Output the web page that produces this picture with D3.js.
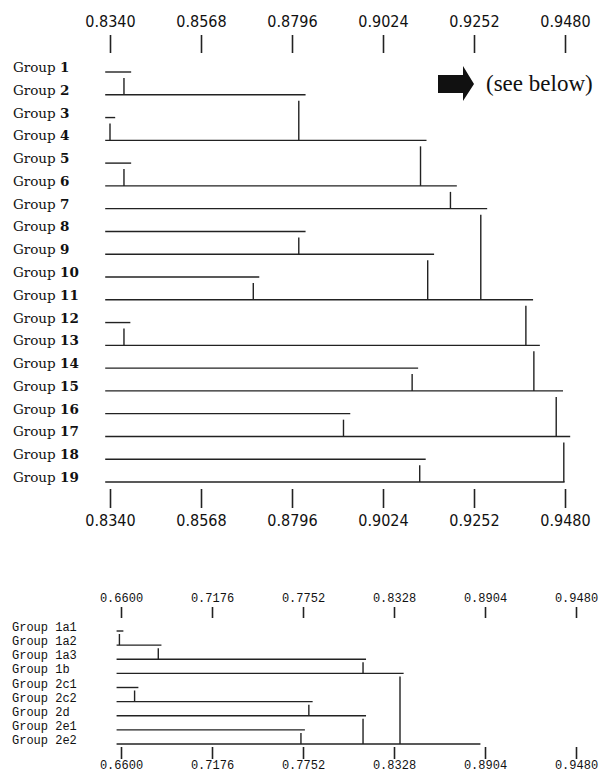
<!DOCTYPE html>
<html>
<head>
<meta charset="utf-8">
<script src="https://cdn.jsdelivr.net/npm/d3@7"></script>
<style>
  body { margin: 0; background: #fff; }
  .tick line { stroke: #222; stroke-width: 1.6px; }
  .top-axis text { font-family: "Liberation Sans Narrow", "DejaVu Sans Condensed", sans-serif; font-size: 16px; fill: #111; }
  .mono-axis text { font-family: "Liberation Mono", "DejaVu Sans Mono", monospace; font-size: 12px; fill: #111; }
  .branch { stroke: #222; stroke-width: 1.4px; fill: none; }
  .label-top { font-family: "DejaVu Serif", serif; font-size: 13.5px; fill: #111; }
  .label-mono { font-family: "Liberation Mono", "DejaVu Sans Mono", monospace; font-size: 12px; fill: #111; }
</style>
</head>
<body>
<div class="d3-wrapper"></div>
<script>
// upper dendrogram
const topGroups = ['Group 1', 'Group 2', 'Group 3', 'Group 4', 'Group 5', 'Group 6', 'Group 7',
  'Group 8', 'Group 9', 'Group 10', 'Group 11', 'Group 12', 'Group 13', 'Group 14', 'Group 15',
  'Group 16', 'Group 17', 'Group 18', 'Group 19'];
const topTicks = [0.8340, 0.8568, 0.8796, 0.9024, 0.9252, 0.9480];
const topLeaf = 0.8328;
const topLineEnd = [0.8393, 0.8830, 0.8353, 0.9133, 0.8393, 0.9209, 0.9285, 0.8830, 0.9152, 0.8714,
  0.9400, 0.8391, 0.9417, 0.9112, 0.9475, 0.8942, 0.9493, 0.9131, 0.9479];
// each row (but the last) joins a row further down at this value
const topJoinValue = [0.8375, 0.8813, 0.8340, 0.9118, 0.8375, 0.9193, 0.9269, 0.8813, 0.9136, 0.8699,
  0.9382, 0.8375, 0.9402, 0.9097, 0.9458, 0.8925, 0.9477, 0.9116];
const topJoinTo = [2, 4, 4, 6, 6, 7, 11, 9, 11, 11, 13, 13, 15, 15, 17, 17, 19, 19];

// lower dendrogram (detail of groups 1 and 2)
const subGroups = ['Group 1a1', 'Group 1a2', 'Group 1a3', 'Group 1b', 'Group 2c1', 'Group 2c2',
  'Group 2d', 'Group 2e1', 'Group 2e2'];
const subTicks = [0.6600, 0.7176, 0.7752, 0.8328, 0.8904, 0.9480];
const subLeaf = 0.6572;
const subLineEnd = [0.6615, 0.6856, 0.8151, 0.8389, 0.6710, 0.7813, 0.8151, 0.7764, 0.8875];
const subJoinValue = [0.6590, 0.6836, 0.8132, 0.8366, 0.6686, 0.7789, 0.8132, 0.7739];
const subJoinTo = [2, 3, 4, 9, 6, 7, 9, 9];

const WIDTH = 606, HEIGHT = 774;

const svg = d3.select('.d3-wrapper').append('svg')
  .attr('width', WIDTH)
  .attr('height', HEIGHT);

function drawTree(cfg) {
  const x = d3.scaleLinear().domain([cfg.ticks[0], cfg.ticks[cfg.ticks.length - 1]]).range(cfg.xRange);
  const y = d3.scalePoint().domain(cfg.groups).range(cfg.yRange);
  const fmt = d3.format('.4f');
  const g = svg.append('g');

  const axisTop = d3.axisTop(x).tickValues(cfg.ticks).tickFormat(fmt)
    .tickSize(cfg.topTick.size).tickPadding(cfg.topTick.pad);
  g.append('g')
    .attr('class', cfg.axisClass)
    .attr('transform', `translate(0, ${cfg.topTick.y})`)
    .call(axisTop)
    .call(a => a.select('.domain').remove());

  const axisBottom = d3.axisBottom(x).tickValues(cfg.ticks).tickFormat(fmt)
    .tickSize(cfg.bottomTick.size).tickPadding(cfg.bottomTick.pad);
  g.append('g')
    .attr('class', cfg.axisClass)
    .attr('transform', `translate(0, ${cfg.bottomTick.y})`)
    .call(axisBottom)
    .call(a => a.select('.domain').remove());

  // labels, number part in bold for the upper tree
  const labels = g.selectAll('text.row')
    .data(cfg.groups)
    .enter()
    .append('text')
    .attr('class', cfg.labelClass)
    .attr('x', cfg.labelX)
    .attr('y', d => y(d));
  labels.append('tspan').text(d => d.split(' ')[0] + ' ');
  labels.append('tspan')
    .style('font-weight', cfg.boldNumber ? 'bold' : 'normal')
    .text(d => d.split(' ')[1]);

  // horizontal branches
  g.selectAll('line.h')
    .data(cfg.groups)
    .enter()
    .append('line')
    .attr('class', 'branch')
    .attr('x1', x(cfg.leaf))
    .attr('x2', (d, i) => x(cfg.lineEnd[i]))
    .attr('y1', d => y(d))
    .attr('y2', d => y(d));

  // vertical joins
  g.selectAll('line.v')
    .data(cfg.joinValue)
    .enter()
    .append('line')
    .attr('class', 'branch')
    .attr('x1', d => x(d))
    .attr('x2', d => x(d))
    .attr('y1', (d, i) => y(cfg.groups[i]) + cfg.gap)
    .attr('y2', (d, i) => y(cfg.groups[cfg.joinTo[i] - 1]));
}

drawTree({
  groups: topGroups, ticks: topTicks, leaf: topLeaf, lineEnd: topLineEnd,
  joinValue: topJoinValue, joinTo: topJoinTo,
  xRange: [110, 565], yRange: [72, 482],
  topTick: { y: 53, size: 18, pad: 8 },
  bottomTick: { y: 489, size: 19, pad: 7 },
  axisClass: 'top-axis', labelClass: 'label-top', labelX: 13, boldNumber: true, gap: 6
});

drawTree({
  groups: subGroups, ticks: subTicks, leaf: subLeaf, lineEnd: subLineEnd,
  joinValue: subJoinValue, joinTo: subJoinTo,
  xRange: [121, 576], yRange: [631, 744],
  topTick: { y: 618, size: 11, pad: 5 },
  bottomTick: { y: 747, size: 12, pad: 1 },
  axisClass: 'mono-axis', labelClass: 'label-mono', labelX: 12, boldNumber: false, gap: 3
});

// pointer to the lower tree
svg.append('path')
  .attr('d', 'M438,75 L463,75 L463,66 L474,84 L463,101 L463,93 L438,93 Z')
  .style('fill', '#111');

svg.append('text')
  .attr('x', 486)
  .attr('y', 91)
  .style('font-family', '"Liberation Serif", serif')
  .style('font-size', '23px')
  .style('fill', '#111')
  .text('(see below)');
</script>
</body>
</html>
